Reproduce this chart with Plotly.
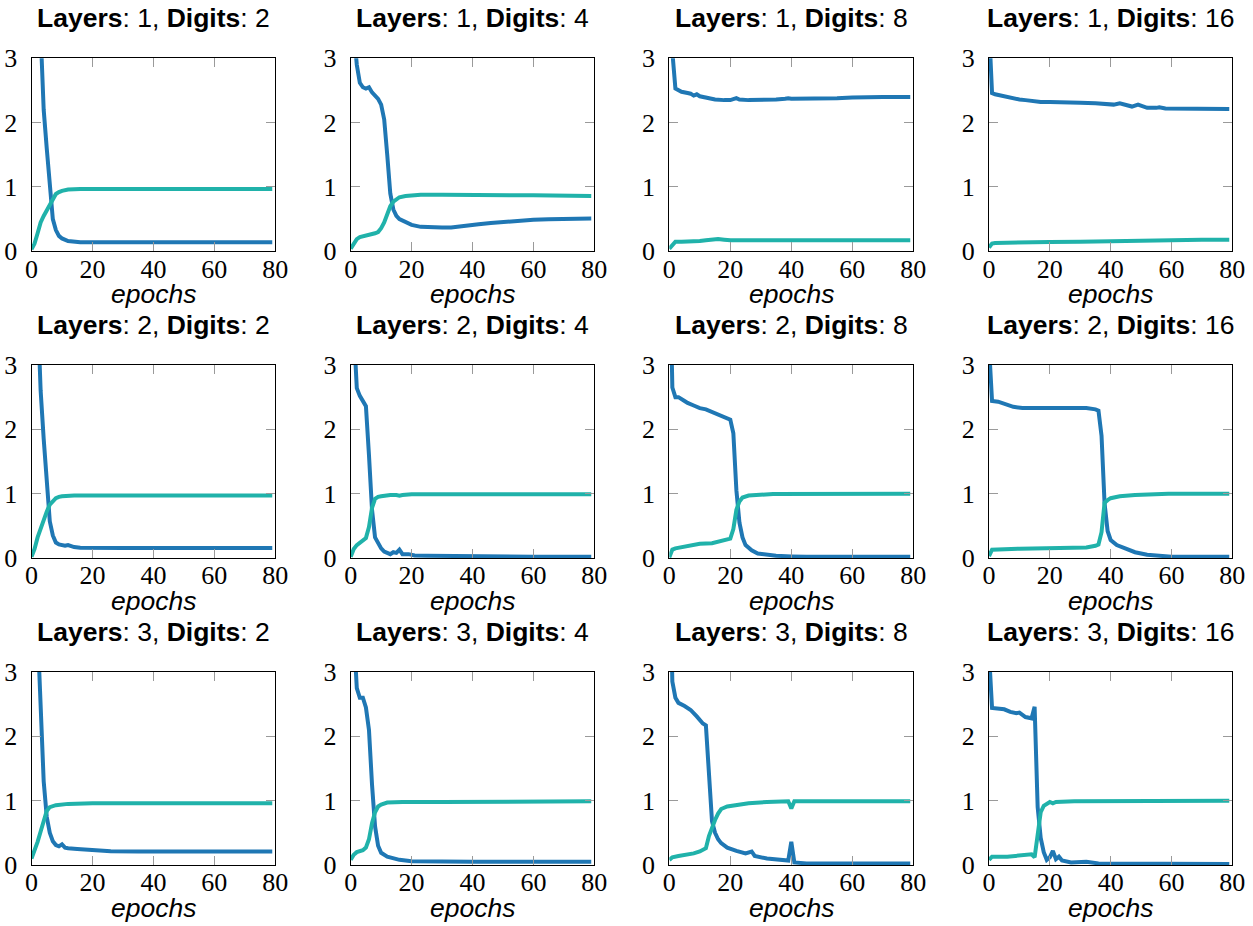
import plotly.graph_objects as go

# ---------------- data ----------------
X_TICKS = [0, 20, 40, 60, 80]
Y_TICKS = [0, 1, 2, 3]
LAYERS = [1, 2, 3]
DIGITS = [2, 4, 8, 16]

X_LOSS_L1_D2 = [0, 1, 2, 3, 4, 5, 6, 7, 8, 9, 10, 12, 16, 20, 30, 40, 50, 60, 70, 79]
LOSS_L1_D2 = [7.0, 5.8, 4.6, 3.4, 2.2, 1.6, 1.0, 0.5, 0.33, 0.24, 0.2, 0.16, 0.14, 0.14, 0.145, 0.14, 0.14, 0.14, 0.14, 0.14]
X_ACC_L1_D2 = [0, 1, 2, 3, 4, 5, 6, 7, 8, 9, 10, 12, 16, 30, 50, 79]
ACC_L1_D2 = [0.03, 0.12, 0.28, 0.45, 0.55, 0.64, 0.74, 0.83, 0.89, 0.92, 0.94, 0.96, 0.97, 0.97, 0.97, 0.97]

X_LOSS_L1_D4 = [0, 1, 2, 3, 4, 5, 6, 7, 8, 9, 10, 11, 12, 13, 14, 15, 16, 18, 20, 23, 26, 30, 33, 36, 39, 42, 46, 51, 55, 60, 65, 70, 79]
LOSS_L1_D4 = [4.0, 3.4, 2.9, 2.62, 2.55, 2.53, 2.55, 2.47, 2.42, 2.37, 2.28, 2.05, 1.5, 0.9, 0.65, 0.55, 0.5, 0.45, 0.41, 0.38, 0.37, 0.37, 0.37, 0.39, 0.41, 0.42, 0.44, 0.46, 0.47, 0.49, 0.5, 0.5, 0.51]
X_ACC_L1_D4 = [0, 1, 2, 3, 4, 5, 6, 7, 8, 9, 10, 11, 12, 13, 14, 15, 16, 18, 20, 23, 30, 40, 50, 60, 79]
ACC_L1_D4 = [0.04, 0.13, 0.19, 0.22, 0.23, 0.25, 0.25, 0.27, 0.28, 0.3, 0.36, 0.45, 0.6, 0.7, 0.77, 0.81, 0.84, 0.86, 0.87, 0.88, 0.88, 0.88, 0.87, 0.87, 0.86]

X_LOSS_L1_D8 = [0, 1, 2, 3, 4, 6, 7, 8, 9, 10, 11, 13, 15, 18, 20, 22, 23, 26, 30, 35, 38, 39, 40, 45, 50, 55, 60, 65, 70, 79]
LOSS_L1_D8 = [4.5, 3.1, 2.53, 2.5, 2.48, 2.46, 2.45, 2.42, 2.44, 2.41, 2.4, 2.38, 2.36, 2.35, 2.35, 2.38, 2.36, 2.35, 2.35, 2.36, 2.37, 2.38, 2.37, 2.37, 2.38, 2.38, 2.39, 2.4, 2.4, 2.4]
X_ACC_L1_D8 = [0, 1, 2, 4, 6, 8, 10, 12, 14, 16, 18, 20, 30, 40, 50, 60, 70, 79]
ACC_L1_D8 = [0.04, 0.1, 0.15, 0.15, 0.15, 0.15, 0.16, 0.17, 0.18, 0.19, 0.18, 0.17, 0.17, 0.17, 0.17, 0.17, 0.17, 0.17]

X_LOSS_L1_D16 = [0, 1, 2, 4, 6, 8, 10, 12, 15, 17, 20, 25, 30, 35, 38, 41, 43, 45, 47, 49, 52, 55, 56, 58, 60, 65, 70, 79]
LOSS_L1_D16 = [3.5, 2.46, 2.44, 2.42, 2.39, 2.37, 2.36, 2.35, 2.33, 2.32, 2.32, 2.32, 2.31, 2.3, 2.29, 2.28, 2.3, 2.27, 2.25, 2.28, 2.23, 2.23, 2.24, 2.22, 2.22, 2.21, 2.21, 2.21]
X_ACC_L1_D16 = [0, 1, 2, 5, 10, 20, 30, 40, 50, 60, 70, 79]
ACC_L1_D16 = [0.06, 0.12, 0.13, 0.135, 0.14, 0.145, 0.15, 0.16, 0.17, 0.18, 0.18, 0.18]

X_LOSS_L2_D2 = [0, 1, 2, 3, 4, 5, 6, 7, 8, 9, 10, 11, 12, 13, 14, 16, 20, 30, 40, 50, 60, 70, 79]
LOSS_L2_D2 = [6.5, 5.2, 4.0, 2.6, 1.85, 1.15, 0.57, 0.35, 0.24, 0.21, 0.2, 0.19, 0.2, 0.18, 0.17, 0.16, 0.155, 0.155, 0.155, 0.155, 0.155, 0.155, 0.155]
X_ACC_L2_D2 = [0, 1, 2, 3, 4, 5, 6, 7, 8, 9, 10, 14, 30, 50, 79]
ACC_L2_D2 = [0.02, 0.14, 0.32, 0.47, 0.6, 0.72, 0.83, 0.89, 0.93, 0.95, 0.96, 0.97, 0.97, 0.97, 0.97]

X_LOSS_L2_D4 = [0, 1, 2, 3, 4, 5, 6, 7, 8, 9, 10, 11, 12, 13, 14, 15, 16, 17, 19, 21, 25, 31, 40, 50, 60, 70, 79]
LOSS_L2_D4 = [4.5, 3.7, 2.64, 2.52, 2.44, 2.36, 1.6, 0.75, 0.32, 0.22, 0.15, 0.1, 0.08, 0.06, 0.09, 0.08, 0.13, 0.06, 0.06, 0.04, 0.035, 0.03, 0.025, 0.02, 0.02, 0.02, 0.02]
X_ACC_L2_D4 = [0, 1, 2, 3, 4, 5, 6, 7, 8, 9, 10, 11, 13, 15, 16, 17, 20, 30, 50, 79]
ACC_L2_D4 = [0.02, 0.14, 0.2, 0.24, 0.27, 0.31, 0.48, 0.78, 0.92, 0.95, 0.96, 0.97, 0.98, 0.98, 0.97, 0.98, 0.99, 0.99, 0.99, 0.99]

X_LOSS_L2_D8 = [0, 1, 2, 3, 5, 6, 8, 10, 12, 14, 16, 18, 20, 21, 22, 23, 24, 25, 27, 29, 32, 35, 40, 45, 79]
LOSS_L2_D8 = [5.0, 2.65, 2.5, 2.5, 2.44, 2.41, 2.37, 2.33, 2.31, 2.27, 2.22, 2.18, 2.15, 1.94, 1.05, 0.55, 0.32, 0.2, 0.12, 0.07, 0.05, 0.035, 0.025, 0.02, 0.02]
X_ACC_L2_D8 = [0, 1, 2, 5, 10, 14, 18, 20, 21, 22, 23, 24, 26, 28, 34, 79]
ACC_L2_D8 = [0.01, 0.13, 0.15, 0.18, 0.22, 0.23, 0.27, 0.3, 0.45, 0.75, 0.88, 0.94, 0.97, 0.98, 0.995, 1.0]

X_LOSS_L2_D16 = [0, 1, 3, 5, 6, 7, 8, 11, 21, 26, 32, 35, 36, 37, 38, 39, 40, 42, 45, 48, 52, 56, 60, 79]
LOSS_L2_D16 = [3.3, 2.44, 2.43, 2.4, 2.39, 2.38, 2.35, 2.33, 2.33, 2.34, 2.33, 2.31, 2.29, 1.9, 0.85, 0.42, 0.28, 0.2, 0.14, 0.09, 0.05, 0.03, 0.02, 0.02]
X_ACC_L2_D16 = [0, 1, 10, 21, 32, 35, 36, 37, 38, 39, 40, 43, 48, 59, 79]
ACC_L2_D16 = [0.03, 0.13, 0.145, 0.155, 0.165, 0.19, 0.21, 0.4, 0.86, 0.9, 0.93, 0.96, 0.98, 1.0, 1.0]

X_LOSS_L3_D2 = [0, 1, 2, 3, 4, 5, 6, 7, 8, 9, 10, 11, 12, 15, 20, 26, 35, 50, 65, 79]
LOSS_L3_D2 = [6.0, 4.8, 3.6, 2.3, 1.3, 0.75, 0.5, 0.37, 0.31, 0.29, 0.32, 0.27, 0.26, 0.25, 0.23, 0.215, 0.21, 0.21, 0.21, 0.21]
X_ACC_L3_D2 = [0, 1, 2, 3, 4, 5, 6, 8, 12, 20, 40, 60, 79]
ACC_L3_D2 = [0.1, 0.22, 0.36, 0.52, 0.7, 0.84, 0.9, 0.93, 0.95, 0.96, 0.96, 0.96, 0.96]

X_LOSS_L3_D4 = [0, 1, 2, 3, 4, 5, 6, 7, 8, 9, 10, 12, 16, 20, 30, 40, 50, 60, 70, 79]
LOSS_L3_D4 = [4.5, 3.6, 2.75, 2.6, 2.6, 2.45, 2.1, 1.25, 0.6, 0.3, 0.19, 0.13, 0.08, 0.06, 0.05, 0.05, 0.05, 0.05, 0.05, 0.05]
X_ACC_L3_D4 = [0, 1, 2, 3, 4, 5, 6, 7, 8, 9, 10, 12, 17, 30, 50, 79]
ACC_L3_D4 = [0.08, 0.16, 0.2, 0.22, 0.23, 0.27, 0.4, 0.65, 0.82, 0.91, 0.94, 0.97, 0.98, 0.98, 0.99, 0.99]

X_LOSS_L3_D8 = [0, 1, 2, 3, 5, 7, 9, 11, 12, 13, 14, 15, 16, 17, 19, 22, 25, 27, 28, 32, 36, 39, 40, 41, 45, 60, 79]
LOSS_L3_D8 = [5.0, 2.85, 2.6, 2.52, 2.47, 2.41, 2.31, 2.2, 2.17, 1.35, 0.68, 0.5, 0.4, 0.34, 0.27, 0.22, 0.18, 0.21, 0.14, 0.1, 0.08, 0.07, 0.36, 0.04, 0.025, 0.025, 0.025]
X_ACC_L3_D8 = [0, 1, 3, 5, 8, 10, 12, 13, 14, 15, 16, 17, 19, 23, 26, 32, 39, 40, 41, 60, 79]
ACC_L3_D8 = [0.08, 0.12, 0.14, 0.155, 0.18, 0.21, 0.26, 0.45, 0.6, 0.7, 0.8, 0.87, 0.91, 0.94, 0.96, 0.98, 0.99, 0.88, 0.99, 0.99, 0.99]

X_LOSS_L3_D16 = [0, 1, 5, 7, 9, 10, 12, 14, 15, 16, 17, 18, 19, 20, 21, 22, 23, 24, 27, 32, 36, 56, 79]
LOSS_L3_D16 = [3.3, 2.44, 2.42, 2.38, 2.36, 2.37, 2.3, 2.28, 2.46, 0.9, 0.42, 0.2, 0.08, 0.12, 0.22, 0.09, 0.13, 0.07, 0.04, 0.05, 0.025, 0.02, 0.015]
X_ACC_L3_D16 = [0, 1, 6, 10, 14, 15, 16, 17, 18, 19, 20, 21, 22, 28, 79]
ACC_L3_D16 = [0.08, 0.13, 0.13, 0.145, 0.165, 0.12, 0.45, 0.82, 0.92, 0.96, 0.98, 0.96, 0.98, 0.99, 1.0]

PANELS = [
    [(X_LOSS_L1_D2, LOSS_L1_D2, X_ACC_L1_D2, ACC_L1_D2),
     (X_LOSS_L1_D4, LOSS_L1_D4, X_ACC_L1_D4, ACC_L1_D4),
     (X_LOSS_L1_D8, LOSS_L1_D8, X_ACC_L1_D8, ACC_L1_D8),
     (X_LOSS_L1_D16, LOSS_L1_D16, X_ACC_L1_D16, ACC_L1_D16)],
    [(X_LOSS_L2_D2, LOSS_L2_D2, X_ACC_L2_D2, ACC_L2_D2),
     (X_LOSS_L2_D4, LOSS_L2_D4, X_ACC_L2_D4, ACC_L2_D4),
     (X_LOSS_L2_D8, LOSS_L2_D8, X_ACC_L2_D8, ACC_L2_D8),
     (X_LOSS_L2_D16, LOSS_L2_D16, X_ACC_L2_D16, ACC_L2_D16)],
    [(X_LOSS_L3_D2, LOSS_L3_D2, X_ACC_L3_D2, ACC_L3_D2),
     (X_LOSS_L3_D4, LOSS_L3_D4, X_ACC_L3_D4, ACC_L3_D4),
     (X_LOSS_L3_D8, LOSS_L3_D8, X_ACC_L3_D8, ACC_L3_D8),
     (X_LOSS_L3_D16, LOSS_L3_D16, X_ACC_L3_D16, ACC_L3_D16)],
]

# ---------------- layout / style ----------------
W, H = 1253, 926
COL_PX = [(31.5, 275.3), (350.7, 594.3), (669.3, 913.3), (989.0, 1232.3)]
ROW_PX = [(58.3, 251.3), (365.0, 558.0), (672.0, 865.0)]
BLUE = "rgb(31,119,180)"
TEAL = "rgb(32,178,170)"
SERIF = "Liberation Serif, DejaVu Serif, serif"
SANS = "Liberation Sans, Arial, sans-serif"

fig = go.Figure()
layout = dict(
    template="none",
    width=W, height=H, autosize=False,
    margin=dict(l=0, r=0, t=0, b=0, pad=0, autoexpand=False),
    paper_bgcolor="white", plot_bgcolor="white",
    showlegend=False,
    annotations=[],
)

for r in range(3):
    for c in range(4):
        idx = r * 4 + c + 1
        xs = "" if idx == 1 else str(idx)
        xl, yl, xa, ya = PANELS[r][c]
        fig.add_trace(go.Scatter(x=xl, y=yl, mode="lines",
                                 line=dict(color=BLUE, width=4),
                                 xaxis="x" + xs, yaxis="y" + xs, hoverinfo="skip"))
        fig.add_trace(go.Scatter(x=xa, y=ya, mode="lines",
                                 line=dict(color=TEAL, width=4),
                                 xaxis="x" + xs, yaxis="y" + xs, hoverinfo="skip"))
        x0, x1 = COL_PX[c]
        y0, y1 = ROW_PX[r]
        common = dict(
            ticks="inside", ticklen=9, tickwidth=1, tickcolor="#9a9a9a",
            showline=True, linecolor="black", linewidth=1, mirror="ticks",
            showgrid=False, zeroline=False, automargin=False,
            tickfont=dict(family=SERIF, size=26, color="black"),
            fixedrange=True,
        )
        layout["xaxis" + xs] = dict(
            domain=[x0 / W, x1 / W], range=[0, 80], tickvals=X_TICKS,
            ticktext=[str(v) for v in X_TICKS], anchor="y" + xs,
            ticklabelstandoff=-6, **common)
        layout["yaxis" + xs] = dict(
            domain=[1 - y1 / H, 1 - y0 / H], range=[0, 3], tickvals=Y_TICKS,
            ticktext=[str(v) for v in Y_TICKS], anchor="x" + xs,
            ticklabelstandoff=8, **common)
        cx = (x0 + x1) / 2 / W
        layout["annotations"].append(dict(
            text=f"<b>Layers</b>: {LAYERS[r]}, <b>Digits</b>: {DIGITS[c]}",
            x=cx, y=1 - (y0 - 40) / H, xref="paper", yref="paper",
            xanchor="center", yanchor="middle", showarrow=False,
            font=dict(family=SANS, size=26.5, color="black")))
        layout["annotations"].append(dict(
            text="<i>epochs</i>",
            x=cx, y=1 - (y1 + 43) / H, xref="paper", yref="paper",
            xanchor="center", yanchor="middle", showarrow=False,
            font=dict(family=SANS, size=26.5, color="black")))

fig.update_layout(**layout)
fig.write_html(
    "out.html",
    config={"displayModeBar": False, "staticPlot": True},
    post_script="document.body.style.margin='0';document.body.style.padding='0';"
                "document.body.style.overflow='hidden';",
)
